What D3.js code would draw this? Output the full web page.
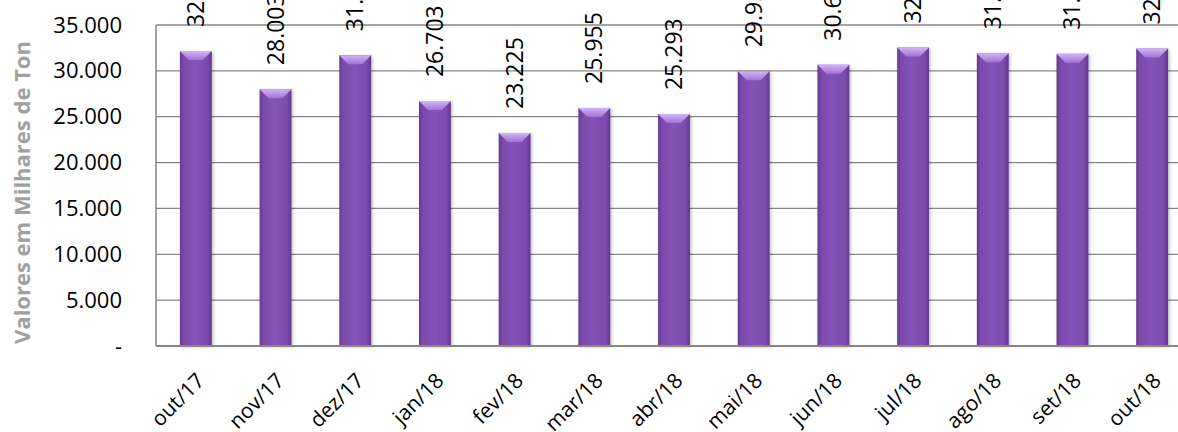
<!DOCTYPE html>
<html>
<head>
<meta charset="utf-8">
<script src="https://cdn.jsdelivr.net/npm/d3@7"></script>
<style>
  html, body { margin: 0; padding: 0; background: #fff; }
  svg { display: block; }
</style>
</head>
<body>
<svg id="chart" width="1178" height="432"></svg>
<script>
const categories = ["out/17","nov/17","dez/17","jan/18","fev/18","mar/18","abr/18","mai/18","jun/18","jul/18","ago/18","set/18","out/18"];
const values = [32155, 28003, 31712, 26703, 23225, 25955, 25293, 29953, 30668, 32541, 31918, 31862, 32431];
const yTicks = [0, 5000, 10000, 15000, 20000, 25000, 30000, 35000];
const yTitle = "Valores em Milhares de Ton";

const svg = d3.select("#chart");
const W = 1178, H = 432;
const margin = { left: 156, top: 25, bottom: 86 };
const plotRight = 1192;

const x = d3.scaleBand().domain(categories).range([margin.left, plotRight])
  .paddingInner(0.6).paddingOuter(0.3);
const y = d3.scaleLinear().domain([0, 35000]).range([H - margin.bottom, margin.top]);

const fmt = v => v === 0 ? "-" : d3.format(",")(v).replace(/,/g, ".");

// defs: gradients
const defs = svg.append("defs");
const g1 = defs.append("linearGradient").attr("id", "barGrad").attr("x1", "0").attr("x2", "1").attr("y1", "0").attr("y2", "0");
[["0%", "#653a92"], ["12%", "#7a4aaa"], ["45%", "#8553b8"], ["85%", "#7c4cae"], ["100%", "#61388c"]]
  .forEach(([o, c]) => g1.append("stop").attr("offset", o).attr("stop-color", c));
const g2 = defs.append("linearGradient").attr("id", "topGrad").attr("x1", "0").attr("x2", "0").attr("y1", "0").attr("y2", "1");
[["0%", "#d2b4f4"], ["100%", "#a273d6"]].forEach(([o, c]) => g2.append("stop").attr("offset", o).attr("stop-color", c));
const f = defs.append("filter").attr("id", "shadow").attr("x", "-20%").attr("y", "-5%").attr("width", "150%").attr("height", "115%");
f.append("feDropShadow").attr("dx", 1.5).attr("dy", 1).attr("stdDeviation", 1.5).attr("flood-color", "#000").attr("flood-opacity", 0.25);

// gridlines
svg.append("g").selectAll("line").data(yTicks.filter(d => d > 0)).join("line")
  .attr("x1", margin.left).attr("x2", plotRight)
  .attr("y1", d => y(d)).attr("y2", d => y(d))
  .attr("stroke", "#868686").attr("stroke-width", 1.3);

// left axis line
svg.append("line").attr("x1", margin.left).attr("x2", margin.left)
  .attr("y1", y(35000)).attr("y2", y(0)).attr("stroke", "#868686").attr("stroke-width", 1.5);

// y axis labels
const yAxis = d3.axisLeft(y).tickValues(yTicks).tickFormat(fmt).tickSize(0).tickPadding(34);
const ya = svg.append("g").attr("transform", `translate(${margin.left},0)`).call(yAxis);
ya.select(".domain").remove();
ya.selectAll("text").attr("font-family", "'Open Sans', sans-serif").attr("font-size", 22).attr("fill", "#000");

// bars
const bw = x.bandwidth();
const bev = 9;
const bars = svg.append("g").selectAll("g").data(values).join("g");
bars.append("rect")
  .attr("x", (d, i) => x(categories[i])).attr("y", d => y(d))
  .attr("width", bw).attr("height", d => y(0) - y(d))
  .attr("fill", "url(#barGrad)").attr("filter", "url(#shadow)");
bars.append("path")
  .attr("d", (d, i) => {
    const x0 = x(categories[i]), x1 = x0 + bw, t = y(d);
    return `M${x0},${t}L${x1},${t}L${x1 - bev},${t + bev}L${x0 + bev},${t + bev}Z`;
  })
  .attr("fill", "url(#topGrad)");

// bottom axis line
svg.append("line").attr("x1", margin.left).attr("x2", plotRight)
  .attr("y1", y(0)).attr("y2", y(0)).attr("stroke", "#868686").attr("stroke-width", 2);

// data labels
svg.append("g").selectAll("text").data(values).join("text")
  .attr("transform", (d, i) => `translate(${x(categories[i]) + bw / 2 + 8},${y(d) - 24}) rotate(-90)`)
  .attr("font-family", "'Open Sans', sans-serif").attr("font-size", 23).attr("fill", "#000")
  .attr("text-anchor", "start")
  .text(d => fmt(d));

// x labels
svg.append("g").selectAll("text").data(categories).join("text")
  .attr("transform", d => `translate(${x(d) + bw / 2 + 10},${y(0) + 36}) rotate(-45)`)
  .attr("font-family", "'Open Sans', sans-serif").attr("font-size", 21).attr("fill", "#000")
  .attr("text-anchor", "end")
  .text(d => d);

// y title
svg.append("text")
  .attr("transform", `translate(30,${(y(0) + 33) / 2 + 3}) rotate(-90)`)
  .attr("text-anchor", "middle")
  .attr("font-family", "'Open Sans', sans-serif").attr("font-weight", "bold").attr("font-size", 22)
  .attr("fill", "#a0a0a0")
  .text(yTitle);
</script>
</body>
</html>
